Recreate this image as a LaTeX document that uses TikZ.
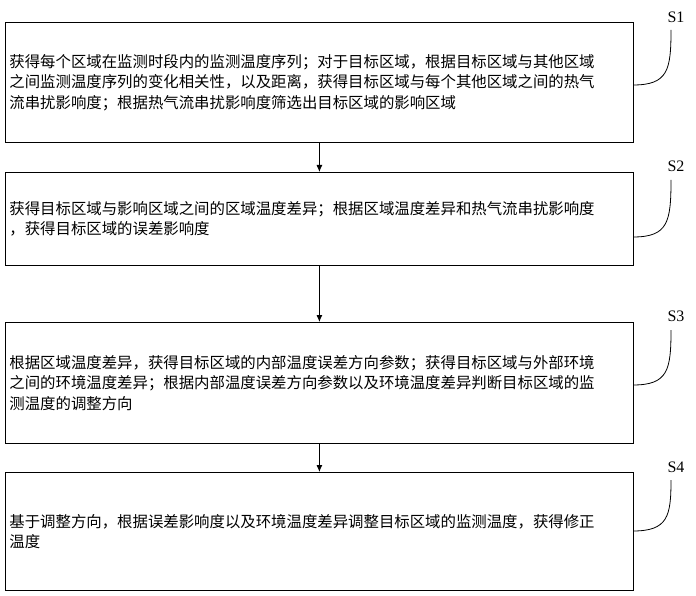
\documentclass[tikz,border=0pt]{standalone}
\usepackage{fontspec}
\setmainfont{Noto Sans CJK SC}
\newfontfamily\serifs{Liberation Serif}
\usetikzlibrary{arrows.meta}
\begin{document}
\begin{tikzpicture}[x=1pt,y=-1pt,
  stepbox/.style={draw,line width=0.8pt,minimum width=628pt,text width=620pt,align=left,inner sep=0pt,anchor=north west,font=\fontsize{15.4}{20.5}\selectfont},
  arr/.style={-{Latex[length=7pt,width=6pt]},line width=0.8pt},
  lead/.style={line width=0.8pt},
  lab/.style={font=\serifs\fontsize{16}{18}\selectfont}]
\useasboundingbox (0,0) rectangle (696,596);
\node[stepbox,minimum height=120pt] (b1) at (5,22) {获得每个区域在监测时段内的监测温度序列；对于目标区域，根据目标区域与其他区域\\之间监测温度序列的变化相关性，以及距离，获得目标区域与每个其他区域之间的热气\\流串扰影响度；根据热气流串扰影响度筛选出目标区域的影响区域};
\node[stepbox,minimum height=93pt] (b2) at (5,172) {获得目标区域与影响区域之间的区域温度差异；根据区域温度差异和热气流串扰影响度\\，获得目标区域的误差影响度};
\node[stepbox,minimum height=121pt] (b3) at (5,322) {根据区域温度差异，获得目标区域的内部温度误差方向参数；获得目标区域与外部环境\\之间的环境温度差异；根据内部温度误差方向参数以及环境温度差异判断目标区域的监\\测温度的调整方向};
\node[stepbox,minimum height=118pt] (b4) at (5,472) {基于调整方向，根据误差影响度以及环境温度差异调整目标区域的监测温度，获得修正\\温度};
\draw[arr] (b1.south) -- (b2.north);
\draw[arr] (b2.south) -- (b3.north);
\draw[arr] (b3.south) -- (b4.north);
\node[lab] (s1) at (676,17) {S1};
\node[lab] (s2) at (676,166) {S2};
\node[lab] (s3) at (676,316) {S3};
\node[lab] (s4) at (676,467) {S4};
\coordinate (e1) at (633,85);
\coordinate (e2) at (633,237);
\coordinate (e3) at (633,385);
\coordinate (e4) at (633,531);
\draw[lead] (e1) .. controls (668,85) and (671,70) .. (671,30);
\draw[lead] (e2) .. controls (668,237) and (671,222) .. (671,180);
\draw[lead] (e3) .. controls (668,385) and (671,370) .. (671,330);
\draw[lead] (e4) .. controls (668,531) and (671,516) .. (671,480);
\end{tikzpicture}
\end{document}
